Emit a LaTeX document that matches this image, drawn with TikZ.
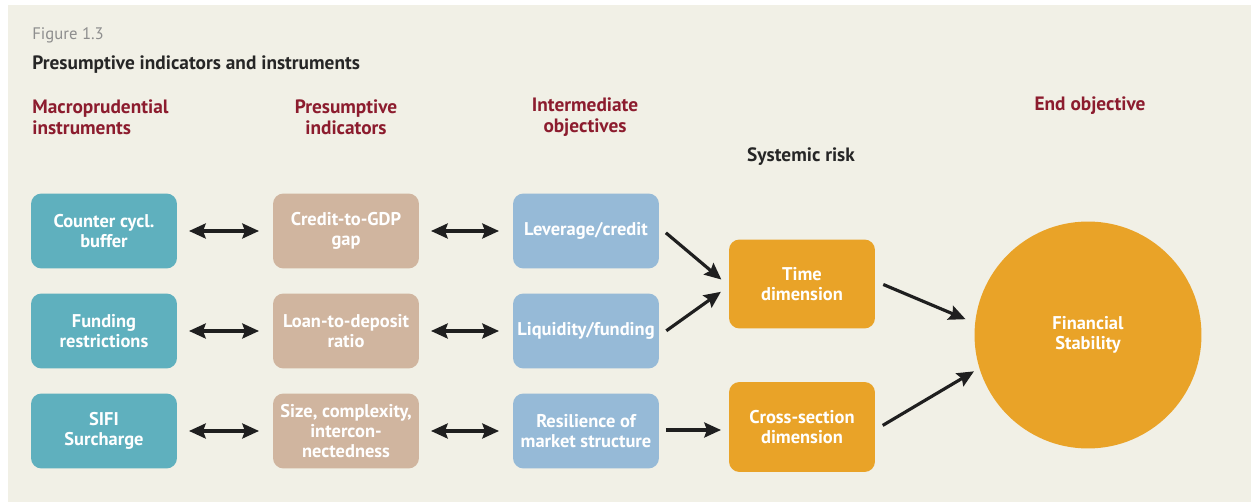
\documentclass[tikz,border=0pt]{standalone}
\usepackage{fontspec}
\setmainfont{PT Sans}
\usetikzlibrary{arrows.meta,calc}

\definecolor{bgbeige}{HTML}{F1F0E6}
\definecolor{tealbox}{HTML}{5FB0BE}
\definecolor{tanbox}{HTML}{D0B59F}
\definecolor{bluebox}{HTML}{96BAD7}
\definecolor{orangebox}{HTML}{E9A328}
\definecolor{headred}{HTML}{8C1C2E}
\definecolor{figgray}{HTML}{8E8E8E}

\begin{document}
\begin{tikzpicture}[x=.02cm,y=-.02cm]
\def\linecol{black!88}

\tikzset{box/.style={rounded corners=6pt, minimum width=2.92cm, minimum height=1.5cm, align=center, text=white, inner sep=0pt, outer sep=0pt, font=\bfseries\fontsize{10.5}{11.5}\selectfont}}
\tikzset{head/.style={text=headred, inner sep=0pt, font=\bfseries\fontsize{11}{12}\selectfont}}
\tikzset{link/.style={line width=1.8pt, draw=\linecol, -{Stealth[length=9.5pt,width=8.5pt,inset=1.5pt]}, shorten <=.18cm, shorten >=.2cm}}
\tikzset{dlink/.style={link, {Stealth[length=9.5pt,width=8.5pt,inset=1.5pt]}-{Stealth[length=9.5pt,width=8.5pt,inset=1.5pt]}, shorten <=.24cm, shorten >=.28cm}}

\useasboundingbox (0,0) rectangle (1251,502);
\fill[bgbeige] (8,5) rectangle (1251,502);

%%%%%%% titles
\node(fig)at(32,35)[anchor=west,text=figgray,inner sep=0pt,font=\fontsize{9.5}{11}\selectfont]{Figure 1.3};
\node(title)at(32,65)[anchor=west,text=black!85,inner sep=0pt,font=\bfseries\fontsize{11}{12}\selectfont]{Presumptive indicators and instruments};
\node(hinst)at(32,117)[head,anchor=west,align=left]{Macroprudential\\instruments};
\node(hind)at(346,117)[head,align=center]{Presumptive\\indicators};
\node(hobj)at(585,117)[head,align=center]{Intermediate\\objectives};
\node(hend)at(1090,106)[head]{End objective};
\node(hrisk)at(801,157)[text=black!85,inner sep=0pt,font=\bfseries\fontsize{11}{12}\selectfont]{Systemic risk};

%%%%%%% instruments
\node(ccb)at(104,231)[box,fill=tealbox]{Counter cycl.\\buffer};
\node(fund)at(104,331)[box,fill=tealbox]{Funding\\restrictions};
\node(sifi)at(104,431)[box,fill=tealbox]{SIFI\\Surcharge};

%%%%%%% indicators
\node(cgdp)at(346,231)[box,fill=tanbox]{Credit-to-GDP\\gap};
\node(ltd)at(346,331)[box,fill=tanbox]{Loan-to-deposit\\ratio};
\node(size)at(346,431)[box,fill=tanbox]{Size, complexity,\\intercon-\\nectedness};

%%%%%%% intermediate objectives
\node(lev)at(586,231)[box,fill=bluebox]{Leverage/credit};
\node(liq)at(586,331)[box,fill=bluebox]{Liquidity/funding};
\node(res)at(586,431)[box,fill=bluebox]{Resilience of\\market structure};

%%%%%%% systemic risk
\node(time)at(802,284)[box,fill=orangebox,minimum height=1.78cm]{Time\\dimension};
\node(cross)at(802,427)[box,fill=orangebox,minimum height=1.8cm]{Cross-section\\dimension};

%%%%%%% end objective
\node(fs)at(1088,335)[circle,fill=orangebox,minimum size=4.54cm,align=center,text=white,inner sep=0pt,font=\bfseries\fontsize{10.5}{11.5}\selectfont]{Financial\\Stability};

%%%%%%% arrows
\draw[dlink] (ccb.east) -- (cgdp.west);
\draw[dlink] (fund.east) -- (ltd.west);
\draw[dlink] (sifi.east) -- (size.west);
\draw[dlink] (cgdp.east) -- (lev.west);
\draw[dlink] (ltd.east) -- (liq.west);
\draw[dlink] (size.east) -- (res.west);
\draw[link] ($(lev.east)+(0,-4)$) -- ($(time.west)+(0,2)$);
\draw[link] ($(liq.east)+(0,5)$) -- ($(time.west)+(0,2)$);
\draw[link,shorten <=.14cm,shorten >=.16cm] ($(res.east)+(0,-1)$) -- ($(res.east -| cross.west)+(0,-1)$);
\draw[link] ($(time.east)+(0,-3)$) -- (fs.174);
\draw[link,shorten >=.12cm] ($(cross.east)+(0,3)$) -- (fs.197);
\end{tikzpicture}
\end{document}
